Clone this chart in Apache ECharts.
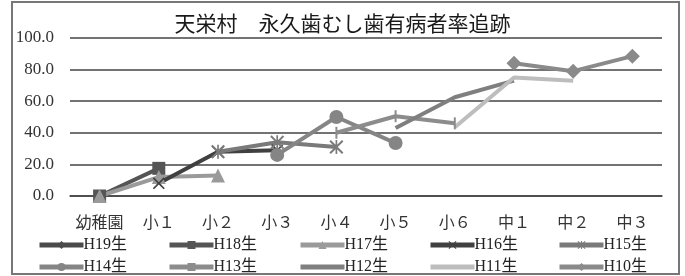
<!DOCTYPE html>
<html>
<head>
<meta charset="utf-8">
<script src="https://cdn.jsdelivr.net/npm/echarts@6/dist/echarts.min.js"></script>
<style>
  html, body { margin: 0; padding: 0; background: #fff; }
  #chart { width: 685px; height: 276px; }
</style>
</head>
<body>
<div id="chart"></div>
<script>
const categories = ['幼稚園', '小１', '小２', '小３', '小４', '小５', '小６', '中１', '中２', '中３'];
const yTicks = [0, 20, 40, 60, 80, 100];

// one list per cohort (birth year), null where not tracked
const h19 = [0, null, null, null, null, null, null, null, null, null];
const h18 = [0, 17.5, null, null, null, null, null, null, null, null];
const h17 = [0, 12, 13, null, null, null, null, null, null, null];
const h16 = [null, 8, 28, 29, null, null, null, null, null, null];
const h15 = [null, null, 28, 34, 31, null, null, null, null, null];
const h14 = [null, null, null, 26, 50, 33.5, null, null, null, null];
const h13 = [null, null, null, null, 40, 50.5, 46, null, null, null];
const h12 = [null, null, null, null, null, 43, 62.5, 73, null, null];
const h11 = [null, null, null, null, null, null, 43.5, 75, 73, null];
const h10 = [null, null, null, null, null, null, null, 84, 79, 88.5];

const crossPath = 'path://M0,1L1,0L5,4L9,0L10,1L6,5L10,9L9,10L5,6L1,10L0,9L4,5Z';
const starPath = crossPath + 'M4.4,0L5.6,0L5.6,10L4.4,10Z';
const tickPath = 'path://M0,0L1,0L1,10L0,10Z';

const cohorts = [
    { name: 'H19生', data: h19, color: '#4a4a4a', symbol: 'diamond', size: 8 },
    { name: 'H18生', data: h18, color: '#555555', symbol: 'rect', size: 13 },
    { name: 'H17生', data: h17, color: '#9a9a9a', symbol: 'triangle', size: 14 },
    { name: 'H16生', data: h16, color: '#404040', symbol: crossPath, size: 12 },
    { name: 'H15生', data: h15, color: '#7a7a7a', symbol: starPath, size: 14 },
    { name: 'H14生', data: h14, color: '#858585', symbol: 'circle', size: 14 },
    { name: 'H13生', data: h13, color: '#8c8c8c', symbol: tickPath, size: [2, 12] },
    { name: 'H12生', data: h12, color: '#7f7f7f', symbol: 'none', size: 0 },
    { name: 'H11生', data: h11, color: '#bdbdbd', symbol: 'none', size: 0 },
    { name: 'H10生', data: h10, color: '#8a8a8a', symbol: 'diamond', size: 15 }
];

const legendCols = [37, 167, 298, 428, 557];
const legendRows = [237, 259];

const serif = '"Liberation Serif", "DejaVu Serif", "Noto Sans CJK JP", serif';

const chart = echarts.init(document.getElementById('chart'), null, { renderer: 'canvas' });

// one legend per item so each sits on the reference's column grid
const legends = cohorts.map((c, i) => ({
    left: legendCols[i % 5],
    top: legendRows[Math.floor(i / 5)],
    padding: 0,
    data: [c.symbol === 'none' ? { name: c.name, itemStyle: { opacity: 0 } } : c.name],
    itemWidth: 44,
    itemHeight: 10,
    lineStyle: { width: 5 },
    textStyle: { fontFamily: serif, fontSize: 16, color: '#222', padding: [0, 0, 0, -5] }
}));

chart.setOption({
    backgroundColor: '#fff',
    animation: false,
    title: {
        text: '天栄村　永久歯むし歯有病者率追跡',
        left: 'center',
        top: 8,
        textStyle: { fontFamily: '"Noto Sans CJK JP", sans-serif', fontSize: 21, fontWeight: 'normal', color: '#1a1a1a' }
    },
    graphic: [{
        type: 'rect',
        shape: { x: 12, y: 2, width: 667, height: 272 },
        style: { fill: 'none', stroke: '#777', lineWidth: 2 },
        silent: true
    }],
    legend: legends,
    grid: { left: 70, right: 23, top: 38, bottom: 80 },
    xAxis: {
        type: 'category',
        data: categories,
        boundaryGap: true,
        axisLine: { lineStyle: { color: '#444', width: 1.5 } },
        axisTick: { show: false },
        axisLabel: { interval: 0, fontFamily: '"Noto Sans CJK JP", sans-serif', fontSize: 16, color: '#333', margin: 18 }
    },
    yAxis: {
        type: 'value',
        min: yTicks[0],
        max: yTicks[yTicks.length - 1],
        interval: 20,
        axisLine: { show: false },
        axisTick: { show: false },
        splitLine: { lineStyle: { color: '#444', width: 1.5 } },
        axisLabel: {
            fontFamily: serif,
            fontSize: 17,
            color: '#333',
            margin: 16,
            formatter: v => v.toFixed(1)
        }
    },
    series: cohorts.map(c => ({
        name: c.name,
        type: 'line',
        data: c.data,
        symbol: c.symbol,
        symbolSize: c.size,
        showSymbol: c.symbol !== 'none',
        lineStyle: { color: c.color, width: 4 },
        itemStyle: { color: c.color },
        emphasis: { disabled: true }
    }))
});
</script>
</body>
</html>
